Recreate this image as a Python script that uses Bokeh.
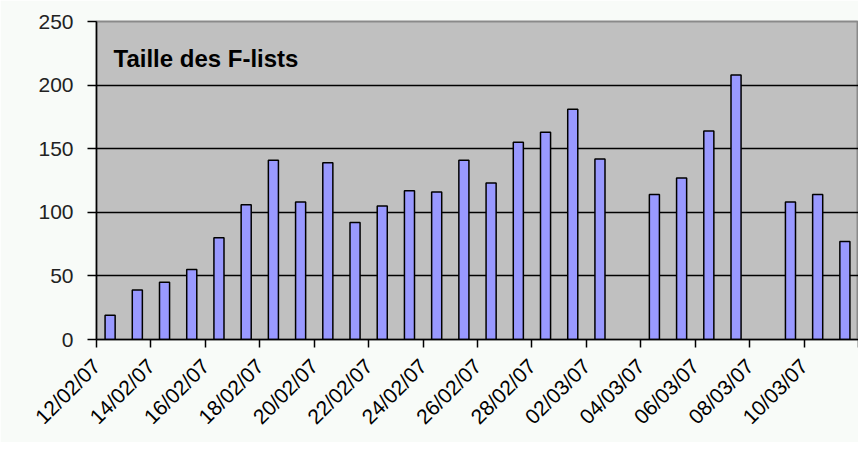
import numpy as np
from bokeh.plotting import figure
from bokeh.models import FixedTicker, Label, ColumnDataSource
from bokeh.embed import file_html
from bokeh.resources import INLINE

# Daily categories (one bar per day)
days = ["12/02/07", "13/02/07", "14/02/07", "15/02/07", "16/02/07", "17/02/07",
        "18/02/07", "19/02/07", "20/02/07", "21/02/07", "22/02/07", "23/02/07",
        "24/02/07", "25/02/07", "26/02/07", "27/02/07", "28/02/07", "01/03/07",
        "02/03/07", "03/03/07", "04/03/07", "05/03/07", "06/03/07", "07/03/07",
        "08/03/07", "09/03/07", "10/03/07", "11/03/07"]
# Size of the F-lists (None = no value that day)
sizes = [19, 39, 45, 55, 80, 106, 141, 108, 139, 92, 105, 117, 116, 141, 123,
         155, 163, 181, 142, None, 114, 127, 164, 208, None, 108, 114, 77]
# Axis labels shown every second day
tick_labels = ["12/02/07", "14/02/07", "16/02/07", "18/02/07", "20/02/07",
               "22/02/07", "24/02/07", "26/02/07", "28/02/07", "02/03/07",
               "04/03/07", "06/03/07", "08/03/07", "10/03/07"]
y_ticks = [0, 50, 100, 150, 200, 250]
title_text = "Taille des F-lists"

idx = np.arange(len(days))
top = np.array([np.nan if v is None else v for v in sizes], dtype=float)
src = ColumnDataSource(dict(x=idx + 0.5, top=top, day=days))

p = figure(width=858, height=442, output_backend="svg", toolbar_location=None,
           x_range=(0, len(days)), y_range=(0, 250),
           min_border_left=96, min_border_right=0, min_border_top=21,
           min_border_bottom=103)

p.background_fill_color = "#C0C0C0"
p.border_fill_color = "#F8FBF8"
p.outline_line_color = "#8A8A8A"
p.outline_line_width = 2

p.vbar(x="x", top="top", width=0.37, bottom=0, source=src,
       fill_color="#9999FF", line_color="black", line_width=1.5)

# x axis: ticks every two days at the edge of each day slot
tick_pos = list(range(0, len(days) + 1, 2))
overrides = {}
for k, t in enumerate(tick_pos):
    overrides[t] = tick_labels[k] if k < len(tick_labels) else ""
p.xaxis.ticker = FixedTicker(ticks=tick_pos)
p.xaxis.major_label_overrides = overrides
p.xaxis.major_label_orientation = np.pi / 4
p.xaxis.major_tick_out = 8
p.xaxis.major_tick_in = 0
p.xaxis.minor_tick_line_color = None
p.xaxis.axis_line_color = "black"
p.xaxis.axis_line_width = 1.5
p.xaxis.major_tick_line_color = "black"
p.xaxis.major_tick_line_width = 1.5
p.xaxis.major_label_text_font = "Liberation Sans"
p.xaxis.major_label_text_font_size = "21px"
p.xaxis.major_label_text_color = "black"
p.xaxis.major_label_standoff = 15

p.yaxis.ticker = FixedTicker(ticks=y_ticks)
p.yaxis.major_tick_out = 9
p.yaxis.major_tick_in = 0
p.yaxis.minor_tick_line_color = None
p.yaxis.axis_line_color = "black"
p.yaxis.axis_line_width = 1.5
p.yaxis.major_tick_line_color = "black"
p.yaxis.major_tick_line_width = 1.5
p.yaxis.major_label_text_font = "Liberation Sans"
p.yaxis.major_label_text_font_size = "21px"
p.yaxis.major_label_text_color = "#222222"
p.yaxis.major_label_standoff = 14

p.xgrid.grid_line_color = None
p.ygrid.grid_line_color = "black"
p.ygrid.grid_line_width = 1.5

p.add_layout(Label(x=17, y=281, x_units="screen", y_units="screen",
                   text=title_text, text_font="Liberation Sans",
                   text_font_size="24px", text_font_style="bold",
                   text_color="black", text_baseline="alphabetic"))

open("out.html", "w").write(file_html(p, INLINE))
